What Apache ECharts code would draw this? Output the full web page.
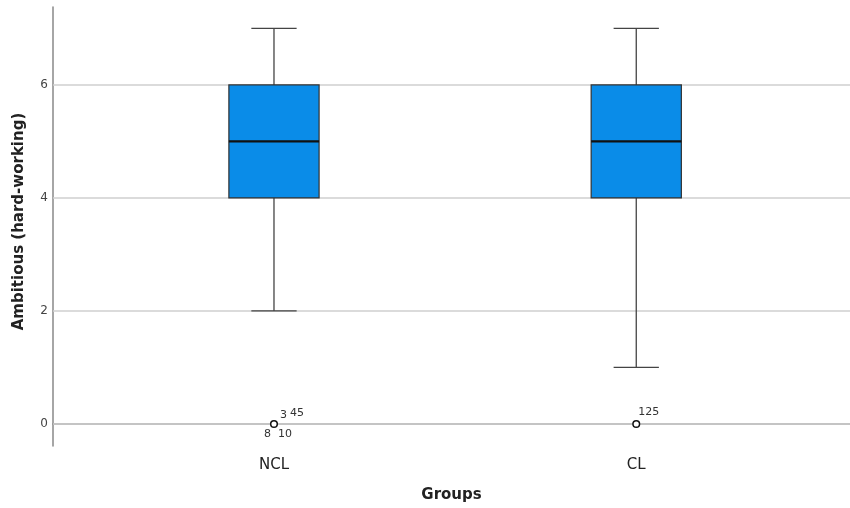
<!DOCTYPE html>
<html>
<head>
<meta charset="utf-8">
<script src="https://cdn.jsdelivr.net/npm/echarts@6/dist/echarts.min.js"></script>
<style>html,body{margin:0;padding:0;background:#fff;}#c{width:850px;height:508px;}</style>
</head>
<body>
<div id="c"></div>
<script>
const categories = ['NCL', 'CL'];
const mins = [2, 1];
const q1s = [4, 4];
const medians = [5, 5];
const q3s = [6, 6];
const maxs = [7, 7];
const yTicks = [0, 2, 4, 6];
const outlierGroup = [0, 1];
const outlierValue = [0, 0];
const outlierLabels = [['3', '45', '8', '10'], ['125']];

const chart = echarts.init(document.getElementById('c'), null, {renderer: 'canvas'});
const boxData = categories.map((c, i) => [i + 1, mins[i], q1s[i], medians[i], q3s[i], maxs[i]]);
const outData = outlierGroup.map((g, i) => [g + 1, outlierValue[i], i]);
const FONT = '"DejaVu Sans", sans-serif';
const labelOffsets = {
  '3': [6, -9], '45': [16, -11], '8': [-10, 10], '10': [4, 10], '125': [2, -12]
};

chart.setOption({
  animation: false,
  grid: {left: 53, right: 0, top: 7, bottom: 62, outerBoundsMode: 'none', containLabel: false},
  xAxis: {
    type: 'value', min: 0.39, max: 2.59,
    name: 'Groups', nameLocation: 'middle', nameGap: 42,
    nameTextStyle: {fontFamily: FONT, fontWeight: 'bold', fontSize: 15, color: '#222'},
    axisLine: {show: true, lineStyle: {color: '#888', width: 1.5}},
    axisTick: {show: false},
    splitLine: {show: false},
    axisLabel: {customValues: [1, 2], formatter: v => categories[Math.round(v) - 1] || '', fontFamily: FONT, fontSize: 15, color: '#222', margin: 12}
  },
  yAxis: {
    type: 'value', min: -0.39, max: 7.38,
    name: 'Ambitious (hard-working)', nameLocation: 'middle', nameGap: 26,
    nameTextStyle: {fontFamily: FONT, fontWeight: 'bold', fontSize: 15, color: '#222', padding: [0, 0, 0, 10]},
    axisLine: {show: true, lineStyle: {color: '#888', width: 1.5}},
    axisTick: {show: false, customValues: yTicks},
    axisLabel: {customValues: yTicks, fontFamily: FONT, fontSize: 12, color: '#444', margin: 5},
    splitLine: {show: false}
  },
  series: [
    {
      type: 'line', data: [], silent: true, z: 1,
      markLine: {
        silent: true, symbol: 'none', label: {show: false}, z: 1,
        lineStyle: {color: '#cfcfcf', width: 1.5, type: 'solid'},
        data: yTicks.map(t => ({yAxis: t}))
      }
    },
    {
      type: 'custom',
      data: boxData,
      z: 3,
      renderItem: function (params, api) {
        const x = api.value(0);
        const half = 0.1245, capHalf = 0.0625;
        const pMin = api.coord([x, api.value(1)]);
        const pQ1 = api.coord([x, api.value(2)]);
        const pMed = api.coord([x, api.value(3)]);
        const pQ3 = api.coord([x, api.value(4)]);
        const pMax = api.coord([x, api.value(5)]);
        const xl = api.coord([x - half, 0])[0];
        const xr = api.coord([x + half, 0])[0];
        const cl = api.coord([x - capHalf, 0])[0];
        const cr = api.coord([x + capHalf, 0])[0];
        const cx = pMed[0];
        const ls = {stroke: '#444', lineWidth: 1.3};
        return {
          type: 'group',
          children: [
            {type: 'line', shape: {x1: cx, y1: pMax[1], x2: cx, y2: pQ3[1]}, style: ls},
            {type: 'line', shape: {x1: cx, y1: pQ1[1], x2: cx, y2: pMin[1]}, style: ls},
            {type: 'line', shape: {x1: cl, y1: pMax[1], x2: cr, y2: pMax[1]}, style: ls},
            {type: 'line', shape: {x1: cl, y1: pMin[1], x2: cr, y2: pMin[1]}, style: ls},
            {type: 'rect', shape: {x: xl, y: pQ3[1], width: xr - xl, height: pQ1[1] - pQ3[1]}, style: {fill: '#0a8ce8', stroke: '#333', lineWidth: 1.2}},
            {type: 'line', shape: {x1: xl, y1: pMed[1], x2: xr, y2: pMed[1]}, style: {stroke: '#111', lineWidth: 2.2}}
          ]
        };
      }
    },
    {
      type: 'custom',
      data: outData,
      z: 4,
      renderItem: function (params, api) {
        const p = api.coord([api.value(0), api.value(1)]);
        const labs = outlierLabels[api.value(2)];
        const children = [{type: 'circle', shape: {cx: p[0], cy: p[1], r: 3.3}, style: {fill: '#fff', stroke: '#111', lineWidth: 1.5}}];
        labs.forEach(l => {
          const o = labelOffsets[l] || [6, -10];
          children.push({type: 'text', x: p[0] + o[0], y: p[1] + o[1], style: {text: l, fill: '#333', font: '11px ' + FONT, align: 'left', verticalAlign: 'middle'}});
        });
        return {type: 'group', children: children};
      }
    }
  ]
});
</script>
</body>
</html>
